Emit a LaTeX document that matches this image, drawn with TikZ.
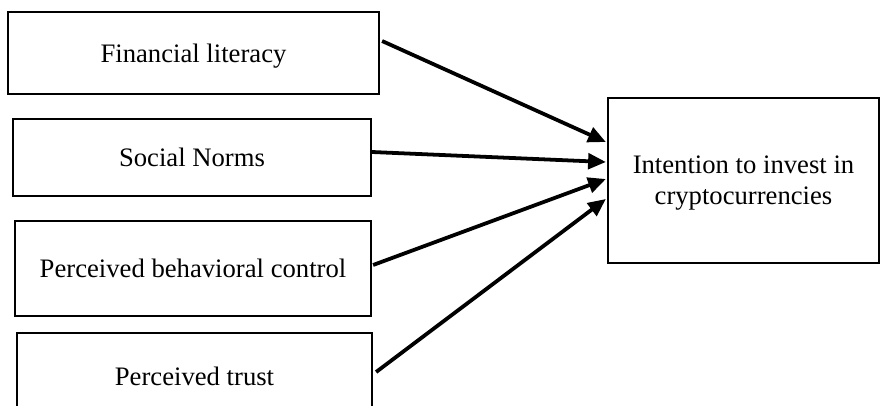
\documentclass[tikz,border=0pt]{standalone}
\usepackage{fontspec}
\setmainfont{Liberation Serif}
\usetikzlibrary{arrows.meta,calc}

\begin{document}
\begin{tikzpicture}[x=0.45pt, y=-0.45pt, >={Triangle[length=8pt,width=7pt]},
    factor/.style={rectangle, draw=black, line width=1pt, align=center,
                   font=\fontsize{12}{14}\selectfont, inner sep=0pt, text depth=0pt},
    path/.style={->, line width=1.7pt}]
\useasboundingbox (0,0) rectangle (880,405);
\clip (0,0) rectangle (880,405);
\node[factor, minimum width=371*0.45pt, minimum height=82*0.45pt]
  (fin) at (193.5,53) {Financial literacy};
\node[factor, minimum width=358*0.45pt, minimum height=77*0.45pt]
  (norms) at (192,157.5) {Social Norms};
\node[factor, minimum width=356*0.45pt, minimum height=95*0.45pt]
  (pbc) at (193,268.5) {Perceived behavioral control};
\node[factor, minimum width=355*0.45pt, minimum height=86*0.45pt]
  (trust) at (194.5,376) {Perceived trust};
\node[factor, minimum width=271*0.45pt, minimum height=165*0.45pt]
  (intent) at (743.5,180.5) {Intention to invest in\\cryptocurrencies};
% paths into the outcome
\draw[path] ($(fin.east)+(2,-12)$) -- ($(intent.west)+(-1,-38.5)$);
\draw[path] ($(norms.east)+(0,-5.5)$) -- ($(intent.west)+(-1,-18.5)$);
\draw[path] ($(pbc.east)+(1,-3.5)$) -- ($(intent.west)+(-1,-1.5)$);
\draw[path] ($(trust.east)+(3,-4)$) -- ($(intent.west)+(-1,18.5)$);
\end{tikzpicture}
\end{document}
